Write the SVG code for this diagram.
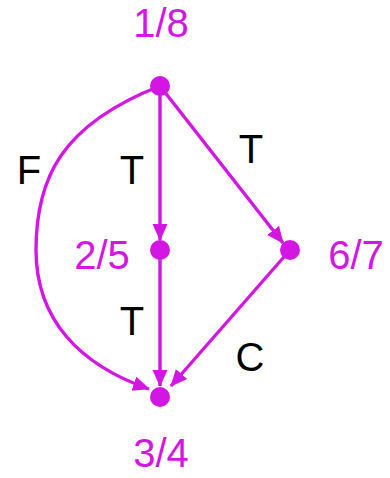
<svg xmlns="http://www.w3.org/2000/svg" width="390" height="478" viewBox="0 0 390 478">
<style>
.edge{fill:none;stroke:#d316e3;stroke-width:3.4;marker-end:url(#ah)}
.node{fill:#d316e3}
.nl{font-family:"Liberation Sans",Arial,sans-serif;font-size:40px;fill:#d316e3;text-anchor:middle}
.el{font-family:"Liberation Sans",Arial,sans-serif;font-size:40px;fill:#000;text-anchor:middle}
</style>
<defs>
<marker id="ah" markerUnits="userSpaceOnUse" markerWidth="17" markerHeight="17" viewBox="0 0 17 17" refX="16" refY="8.5" orient="auto">
<path d="M0,1 L17,8.5 L0,16 Z" fill="#d316e3"/>
</marker>
</defs>
<g id="edges">
<path class="edge" d="M160,86 L160,240"/>
<path class="edge" d="M160,250 L160,386"/>
<path class="edge" d="M160,86 L283,243"/>
<path class="edge" d="M290,250 L171,386"/>
<path class="edge" d="M160,86 C60,125 36,180 36,250 C36,320 80,365 149,389"/>
</g>
<g id="edge-labels">
<text class="el" x="29" y="184">F</text>
<text class="el" x="132" y="184">T</text>
<text class="el" x="251" y="163">T</text>
<text class="el" x="132" y="335">T</text>
<text class="el" x="250" y="371">C</text>
</g>
<g id="n1"><circle class="node" cx="160" cy="86" r="10"/><text class="nl" x="161" y="37">1/8</text></g>
<g id="n2"><circle class="node" cx="160" cy="250" r="10"/><text class="nl" x="102" y="269">2/5</text></g>
<g id="n6"><circle class="node" cx="290" cy="250" r="10"/><text class="nl" x="356" y="269">6/7</text></g>
<g id="n3"><circle class="node" cx="160" cy="397" r="10"/><text class="nl" x="161" y="467">3/4</text></g>
</svg>
